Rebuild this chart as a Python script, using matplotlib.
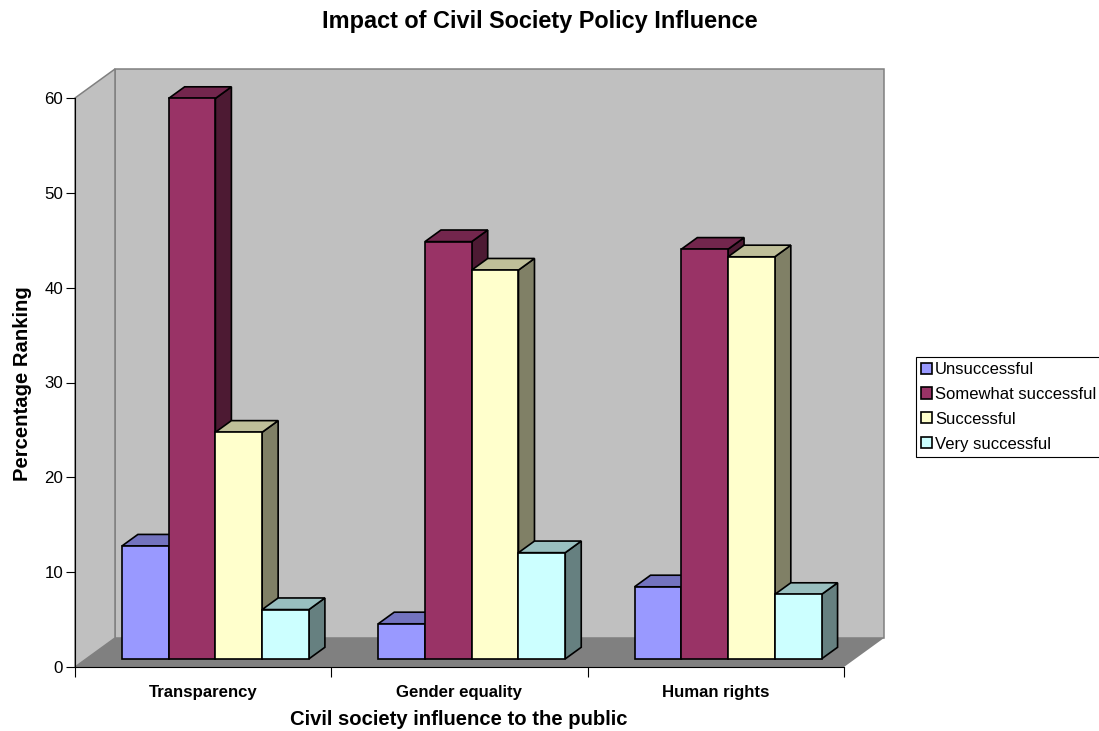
import numpy as np
import matplotlib
matplotlib.use("Agg")
import matplotlib.pyplot as plt
from matplotlib.patches import Polygon, Patch
from matplotlib.colors import to_rgb

plt.rcParams['font.family'] = ['Liberation Sans', 'DejaVu Sans']

# Survey results, percent per category
categories = ['Transparency', 'Gender equality', 'Human rights']
unsuccessful = [11.9, 3.7, 7.6]
somewhat_successful = [59.1, 44.0, 43.2]
successful = [23.9, 41.0, 42.4]
very_successful = [5.2, 11.2, 6.8]

series_names = ['Unsuccessful', 'Somewhat successful', 'Successful', 'Very successful']
series_colors = ['#9999FF', '#993366', '#FFFFCC', '#CCFFFF']
series_values = [unsuccessful, somewhat_successful, successful, very_successful]

fig_w, fig_h = 1099, 731
fig = plt.figure(figsize=(fig_w / 100, fig_h / 100), dpi=100)

# Axes sit on the front plane of the fake 3D box
left, right, top, bottom = 75, 844, 98, 667
ax = fig.add_axes([left / fig_w, 1 - bottom / fig_h,
                   (right - left) / fig_w, (bottom - top) / fig_h])
ax.set_xlim(0, 3)
ax.set_ylim(0, 60)

# Depth of the box expressed in data units
depth_x = 40 * 3 / (right - left)
depth_y = 29 * 60 / (bottom - top)


def proj(x, v, d):
    return (x + d * depth_x, v + d * depth_y)


def shade(color, f):
    return tuple(c * f for c in to_rgb(color))


# Walls and floor
wall_edge = '#808080'
ax.add_patch(Polygon([proj(0, 0, 1), proj(3, 0, 1), proj(3, 60, 1), proj(0, 60, 1)],
                     fc='#C0C0C0', ec=wall_edge, lw=1.1, clip_on=False, zorder=1))
ax.add_patch(Polygon([proj(0, 0, 0), proj(0, 0, 1), proj(0, 60, 1), proj(0, 60, 0)],
                     fc='#C0C0C0', ec=wall_edge, lw=1.1, clip_on=False, zorder=1))
ax.add_patch(Polygon([proj(0, 0, 0), proj(3, 0, 0), proj(3, 0, 1), proj(0, 0, 1)],
                     fc='#808080', ec='none', clip_on=False, zorder=1.5))

# 3D bars, drawn left to right so each one hides the side of the previous
bar_w = 0.1824
d0, d1 = 0.28, 0.68
n = len(series_values)
z = 2
for i in range(len(categories)):
    start = i + 0.504 - bar_w * n / 2
    for j in range(n):
        v = series_values[j][i]
        col = series_colors[j]
        x0 = start + j * bar_w
        x1 = x0 + bar_w
        side = [proj(x1, 0, d0), proj(x1, 0, d1), proj(x1, v, d1), proj(x1, v, d0)]
        cap = [proj(x0, v, d0), proj(x1, v, d0), proj(x1, v, d1), proj(x0, v, d1)]
        front = [proj(x0, 0, d0), proj(x1, 0, d0), proj(x1, v, d0), proj(x0, v, d0)]
        for pts, c in ((side, shade(col, 0.5)), (cap, shade(col, 0.75)), (front, to_rgb(col))):
            ax.add_patch(Polygon(pts, fc=c, ec='black', lw=1.2, joinstyle='miter',
                                 clip_on=False, zorder=z))
            z += 0.01

# Axis lines and ticks
for s in ['top', 'right']:
    ax.spines[s].set_visible(False)
for s in ['left', 'bottom']:
    ax.spines[s].set_linewidth(0.8)
    ax.spines[s].set_zorder(20)
ax.set_yticks(range(0, 61, 10))
ax.tick_params(axis='y', length=6.5, width=0.8, labelsize=12.2, pad=2)
ax.set_xticks(range(4))
ax.set_xticklabels([])
ax.tick_params(axis='x', which='major', length=7.5, width=0.8)
ax.set_xticks(np.arange(3) + 0.5, minor=True)
ax.set_xticklabels(categories, minor=True, fontsize=12.1, fontweight='bold')
ax.tick_params(axis='x', which='minor', length=0, pad=13)

fig.text(540 / fig_w, 1 - 28 / fig_h, 'Impact of Civil Society Policy Influence',
         ha='center', va='baseline', fontsize=16.9, fontweight='bold')
fig.text(459 / fig_w, 1 - 725 / fig_h, 'Civil society influence to the public',
         ha='center', va='baseline', fontsize=14.6, fontweight='bold')
fig.text(28 / fig_w, 1 - 383.5 / fig_h, 'Percentage Ranking', rotation=90,
         rotation_mode='anchor', ha='center', va='baseline', fontsize=14.6, fontweight='bold')

handles = [Patch(fc=c, ec='black', lw=1.2) for c in series_colors]
fig.legend(handles, series_names, loc='upper left',
           bbox_to_anchor=(916 / fig_w, 1 - 357 / fig_h), borderaxespad=0,
           fancybox=False, framealpha=1, edgecolor='black', fontsize=12,
           handlelength=0.65, handleheight=0.65, handletextpad=0.2,
           labelspacing=0.59, borderpad=0.3).get_frame().set_linewidth(0.8)

fig.savefig('out.png', dpi=100)
